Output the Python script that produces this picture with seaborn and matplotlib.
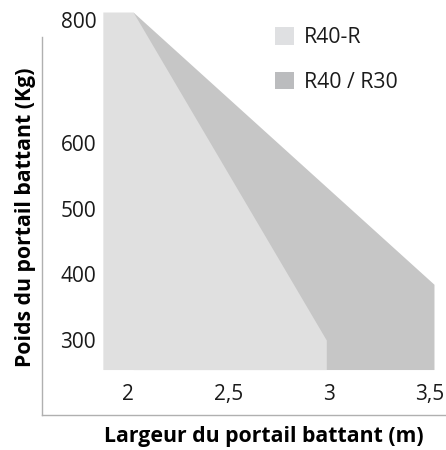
import matplotlib
matplotlib.use("Agg")
import matplotlib.pyplot as plt
from matplotlib.patches import Patch
import seaborn as sns

# data
largeur_r40r = [1.875, 2.025, 2.985]
poids_r40r = [800, 800, 300]
largeur_r40 = [2.025, 3.52]
poids_r40 = [800, 385]
base_poids = 255

series_labels = ["R40-R", "R40 / R30"]
series_colors = ["#e0e0e0", "#c6c6c6"]
legend_colors = ["#dfe0e2", "#bbbcbe"]

x_ticks = [2, 2.5, 3, 3.5]
x_ticklabels = ["2", "2,5", "3", "3,5"]
y_ticks = [300, 400, 500, 600, 800]
y_ticklabels = ["300", "400", "500", "600", "800"]

sns.set_theme(style="white")
plt.rcParams["font.family"] = ["Open Sans", "DejaVu Sans"]

fig = plt.figure(figsize=(4.46, 4.5), dpi=100)
ax = fig.add_axes([42 / 446, 35 / 450, 404 / 446, 415 / 450])

# dark area first, light one on top
ax.fill_between(largeur_r40, base_poids, poids_r40, color=series_colors[1], lw=0)
ax.fill_between(largeur_r40r, base_poids, poids_r40r, color=series_colors[0], lw=0)

ax.set_xlim(1.5728, 3.5797)
ax.set_ylim(185.7, 818.3)

ax.set_xticks(x_ticks)
ax.set_xticklabels(x_ticklabels)
ax.set_yticks(y_ticks)
ax.set_yticklabels(y_ticklabels)
ax.tick_params(axis="x", length=0, pad=-22, labelsize=15, labelcolor="#1a1a1a")
ax.tick_params(axis="y", length=0, pad=-39, labelsize=15, labelcolor="#1a1a1a")
ax.get_yticklabels()[-1].set_va("top")

for s in ["top", "right"]:
    ax.spines[s].set_visible(False)
for s in ["left", "bottom"]:
    ax.spines[s].set_color("#b0b0b0")
    ax.spines[s].set_linewidth(1)
ax.spines["left"].set_bounds(185.7, 762)

ax.set_xlabel("Largeur du portail battant (m)", fontsize=15.3, fontweight="bold", color="black")
ax.set_ylabel("Poids du portail battant (Kg)", fontsize=15.3, fontweight="bold", color="black")
ax.xaxis.set_label_coords(0.55, -0.053)
ax.xaxis.label.set_va("center")
ax.yaxis.set_label_coords(-0.042, 0.477)
ax.yaxis.label.set_va("center")

handles = [Patch(facecolor=c, edgecolor="none") for c in legend_colors]
ax.legend(handles, series_labels, loc="upper left",
          bbox_to_anchor=(275 / 446, 1 - 27 / 450), bbox_transform=fig.transFigure,
          frameon=False, fontsize=15.3, handlelength=0.9, handleheight=0.9,
          handletextpad=0.45, labelspacing=1.1, borderpad=0, borderaxespad=0,
          labelcolor="#1a1a1a")

fig.savefig("out.png", dpi=100)
